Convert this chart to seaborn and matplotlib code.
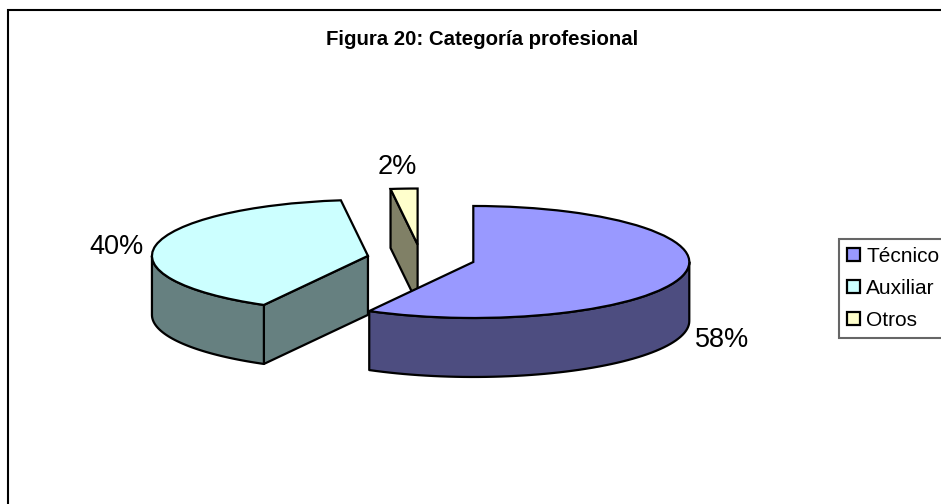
import numpy as np
import matplotlib
matplotlib.use('Agg')
import matplotlib.pyplot as plt
import seaborn as sns

categories = ['Técnico', 'Auxiliar', 'Otros']
values = [58, 40, 2]
pct_labels = ['58%', '40%', '2%']
top_colors = ['#9999ff', '#ccffff', '#ffffcc']
side_colors = ['#4d4d80', '#668080', '#808066']

W, H = 941, 504
CX, CY = 421, 258.5   # pie centre in pixels
RX, RY = 216, 56      # pixels per unit radius
DEPTH = 59 / RY

sns.set_theme(style='white')
plt.rcParams['font.family'] = ['Liberation Sans', 'DejaVu Sans']

fig = plt.figure(figsize=(W / 100, H / 100), dpi=100)
ax = fig.add_axes([0, 0, 1, 1])

wedges, _ = ax.pie(values, colors=top_colors, explode=[0.25] * 3, startangle=90,
                   counterclock=False,
                   wedgeprops={'edgecolor': 'black', 'linewidth': 1.6})

# pie forces a round aspect, squash it so the circle turns into the flat ellipse
ax.set_aspect('auto')
ax.set_xlim(-CX / RX, (W - CX) / RX)
ax.set_ylim((CY - H) / RY, CY / RY)
ax.set_axis_off()


def wall(pts, color, z):
    pts = np.array(pts)
    low = pts[::-1] - [0, DEPTH]
    ax.fill(np.r_[pts[:, 0], low[:, 0]], np.r_[pts[:, 1], low[:, 1]], facecolor=color,
            edgecolor='black', linewidth=1.6, zorder=z, joinstyle='round')


def rim(w, a, b):
    # clockwise pie gives angles below zero, that is fine for cos and sin
    t = np.radians(np.linspace(a, b, 60))
    return np.c_[w.center[0] + w.r * np.cos(t), w.center[1] + w.r * np.sin(t)]


# side faces, the drawing order matters here
zs = [4, 2, 1]
for i, (w, col, z) in enumerate(zip(wedges, side_colors, zs)):
    w.set_zorder(z + 0.5)
    a, b = w.theta1, w.theta2
    # the cut face at the clockwise end of the wedge shows for these two
    if i > 0:
        wall([w.center, rim(w, b, b)[0]], col, z)
    # outer wall, front half of the ellipse only
    lo, hi = max(a, -180), min(b, 0)
    if hi > lo:
        wall(rim(w, lo, hi), col, z)

pct_pos = [(722, 340), (117, 247), (397, 167)]
for lab, (x, y) in zip(pct_labels, pct_pos):
    fig.text(x / W, 1 - y / H, lab, fontsize=19.5, color='black', ha='center', va='center')

fig.text(482 / W, 1 - 45 / H, 'Figura 20: Categoría profesional', fontsize=14.7,
         fontweight='bold', color='black', ha='center', va='baseline')

# chart border, runs off the right and bottom of the image
fig.add_artist(plt.Rectangle((7.5 / W, -0.1), 1.1, 1.1 - 10 / H, transform=fig.transFigure,
                             fill=False, edgecolor='black', linewidth=1.5))

leg = fig.legend(wedges, categories, loc='upper left',
                 bbox_to_anchor=(839 / W, 1 - 239 / H), fontsize=15, frameon=True,
                 fancybox=False, borderaxespad=0, borderpad=0.38, labelspacing=0.62,
                 handlelength=0.62, handleheight=0.62, handletextpad=0.3,
                 edgecolor='#666666', framealpha=1, labelcolor='black')
leg.get_frame().set_linewidth(1.5)

fig.savefig('out.png', dpi=100)
